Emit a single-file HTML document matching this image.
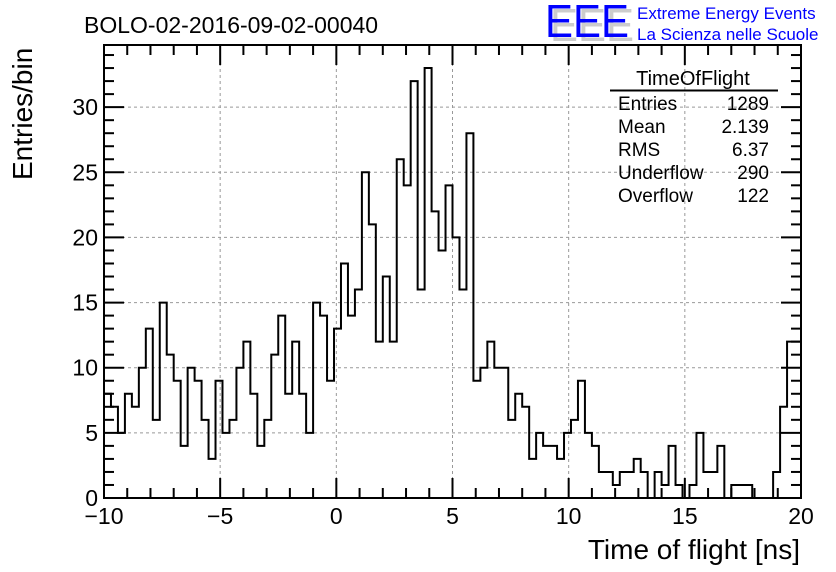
<!DOCTYPE html>
<html><head><meta charset="utf-8"><style>
body{margin:0;background:#fff;}
svg{display:block;font-family:"Liberation Sans",sans-serif;}
</style></head><body>
<svg id="chart" width="836" height="572">
<text x="84" y="33" font-size="23">BOLO-02-2016-09-02-00040</text>
<g>
<text x="550" y="41" font-size="46" fill="#ccc" textLength="84" lengthAdjust="spacingAndGlyphs">EEE</text>
<text x="545" y="37" font-size="46" fill="#0000ff" textLength="84" lengthAdjust="spacingAndGlyphs">EEE</text>
<text x="637" y="19" font-size="17" fill="#0000ff">Extreme Energy Events</text>
<text x="637" y="40" font-size="17" fill="#0000ff">La Scienza nelle Scuole</text>
</g>
<g id="grid"></g>
<g id="axes"></g>
<path id="hist" fill="none" stroke="#000" stroke-width="2"/>
<rect x="104" y="45" width="697" height="453" fill="none" stroke="#000" stroke-width="2"/>
<g font-size="19">
<text x="693" y="85" text-anchor="middle" font-size="20">TimeOfFlight</text>
<line x1="610" y1="90.5" x2="778" y2="90.5" stroke="#000" stroke-width="2"/>
<text x="618" y="110">Entries</text><text x="769" y="110" text-anchor="end">1289</text>
<text x="618" y="133">Mean</text><text x="769" y="133" text-anchor="end">2.139</text>
<text x="618" y="156">RMS</text><text x="769" y="156" text-anchor="end">6.37</text>
<text x="618" y="179">Underflow</text><text x="769" y="179" text-anchor="end">290</text>
<text x="618" y="202">Overflow</text><text x="769" y="202" text-anchor="end">122</text>
</g>
<text x="800" y="559" font-size="28" text-anchor="end">Time of flight [ns]</text>
<text transform="translate(32,180) rotate(-90)" font-size="28">Entries/bin</text>
</svg>
<script>
const binLow = -10, binWidth = 0.3;
const counts = [8,7,5,8,7,10,13,6,15,11,9,4,10,9,6,3,9,5,6,10,12,8,4,6,11,14,8,12,8,5,15,14,9,13,
18,14,16,25,21,12,17,12,26,24,32,16,33,22,19,24,20,16,28,9,10,12,10,10,6,8,
7,3,5,4,4,3,5,6,9,5,4,2,2,1,2,2,3,2,0,2,1,4,1,0,1,5,2,2,4,0,1,1,1,0,0,0,2,7,12,12];
const xTicks = [-10,-5,0,5,10,15,20];
const xTickLabels = ["\u221210","\u22125","0","5","10","15","20"];
const yTicks = [0,5,10,15,20,25,30];
const X0=104,X1=801,Y0=498,Y1=45,xmin=-10,xmax=20,ymin=0,ymax=34.77;
const sx=v=>X0+(v-xmin)/(xmax-xmin)*(X1-X0);
const sy=v=>Y0-(v-ymin)/(ymax-ymin)*(Y0-Y1);
const NS="http://www.w3.org/2000/svg";
const grid=document.getElementById('grid'), axes=document.getElementById('axes');
function mk(tag,attrs,parent){const e=document.createElementNS(NS,tag);for(const k in attrs)e.setAttribute(k,attrs[k]);parent.appendChild(e);return e;}
xTicks.forEach((t,i)=>{
  const x=sx(t);
  if(t>xmin&&t<xmax){const g=mk('line',{x1:x,y1:Y1,x2:x,y2:Y0,stroke:'#999','stroke-dasharray':'3,3'},grid);
  
  }
  const l=mk('text',{x:x,y:524,'font-size':23,'text-anchor':'middle'},axes);
  l.textContent=xTickLabels[i];
  
  
});
for(let v=xmin;v<=xmax;v++){
  const x=sx(v),len=(v%5===0)?20:10;
  mk('line',{x1:x,y1:Y0,x2:x,y2:Y0-len,stroke:'#000','stroke-width':2},axes);
  mk('line',{x1:x,y1:Y1,x2:x,y2:Y1+len,stroke:'#000','stroke-width':2},axes);
}
yTicks.forEach(t=>{
  const y=sy(t);
  if(t>0){const g=mk('line',{x1:X0,y1:y,x2:X1,y2:y,stroke:'#999','stroke-dasharray':'3,3'},grid);
  
  }
  const l=mk('text',{x:98,y:y+8,'font-size':23,'text-anchor':'end'},axes);
  l.textContent=t;
  
  
});
for(let v=0;v<=34;v++){
  const y=sy(v),len=(v%5===0)?20:10;
  mk('line',{x1:X0,y1:y,x2:X0+len,y2:y,stroke:'#000','stroke-width':2},axes);
  mk('line',{x1:X1,y1:y,x2:X1-len,y2:y,stroke:'#000','stroke-width':2},axes);
}
let d='M'+sx(binLow)+','+sy(0);
counts.forEach((c,i)=>{
  const a=sx(binLow+i*binWidth),b=sx(binLow+(i+1)*binWidth);
  d+=' L'+a+','+sy(c)+' L'+b+','+sy(c);
});
d+=' L'+sx(binLow+counts.length*binWidth)+','+sy(0);
document.getElementById('hist').setAttribute('d',d);
</script>
</body></html>
